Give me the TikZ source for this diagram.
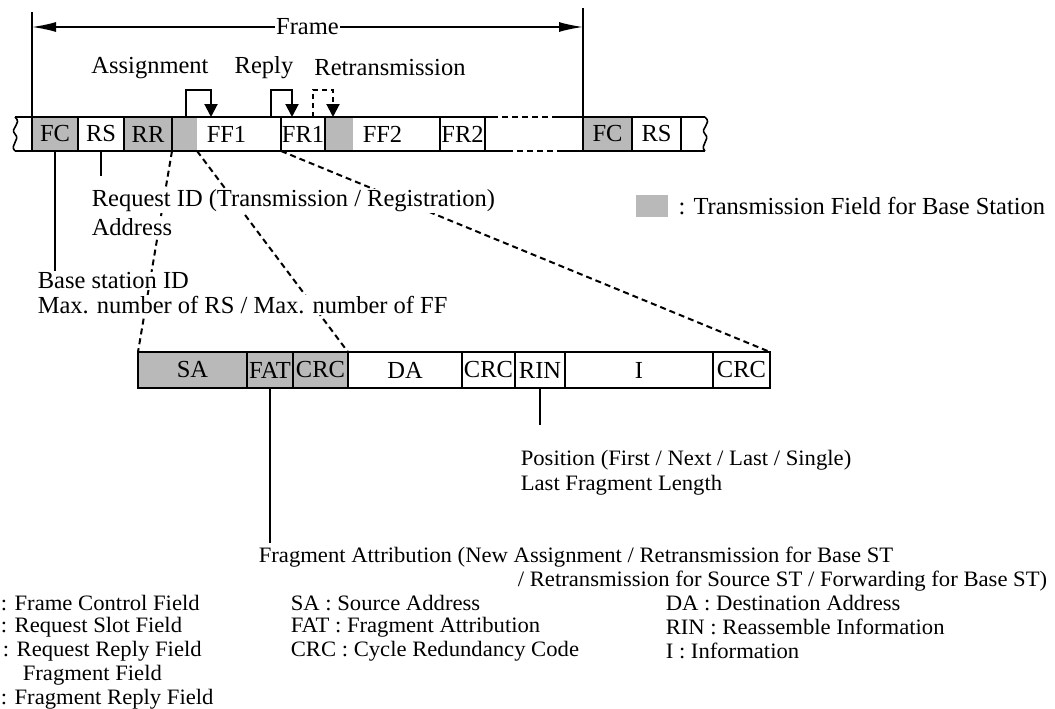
\documentclass[tikz,border=0pt]{standalone}
\usepackage{fontspec}
\setmainfont{Liberation Serif}
\newfontfamily\narrowserif[FakeStretch=1.03]{Liberation Serif}
\usetikzlibrary{arrows.meta,calc,positioning}
\definecolor{BaseGray}{RGB}{185,185,185}

\begin{document}
\begin{tikzpicture}[x=1pt,y=1pt,>=Latex,node distance=0pt,line width=1.6pt,
  font=\fontsize{24.5}{28}\selectfont,
  field/.style={draw,minimum height=34pt,inner sep=0pt,outer sep=0pt},
  basefield/.style={field,fill=BaseGray},
  headfill/.style={path picture={\fill[BaseGray] (path picture bounding box.south west) rectangle ([xshift=#1]path picture bounding box.north west);}},
  cell/.style={draw,minimum height=36pt,inner sep=0pt,outer sep=0pt},
  note/.style={anchor=west,fill=white,inner sep=1pt},
  lownote/.style={anchor=west,inner sep=0pt,font=\narrowserif\fontsize{22}{25}\selectfont},
  lead/.style={line width=2pt,dash pattern=on 6pt off 4pt},
  hop/.style={line width=2pt,-{Triangle[length=13pt,width=13pt]}}]
\useasboundingbox (0,0) rectangle (1055,-709);

% frame row
\node[basefield,minimum width=46pt,anchor=north west] (fc) at (32,-117) {FC};
\node[field,minimum width=46pt,right=of fc] (rs) {RS};
\node[basefield,minimum width=48pt,right=of rs] (rr) {RR};
\node[field,headfill=25pt,minimum width=109pt,right=of rr] (ff1) {FF1};
\node[field,minimum width=44pt,right=of ff1] (fr1) {FR1};
\node[field,headfill=28pt,minimum width=115pt,right=of fr1] (ff2) {FF2};
\node[field,minimum width=45pt,right=of ff2] (fr2) {FR2};
\node[basefield,minimum width=49pt,anchor=north west] (fc2) at (583,-117) {FC};
\node[field,minimum width=49pt,right=of fc2] (rs2) {RS};

% broken ends
\coordinate (lwt) at (15,-117); \coordinate (lwb) at (15,-151);
\coordinate (rwt) at (705,-117); \coordinate (rwb) at (705,-151);
\draw (lwt) -- (fc.north west) (lwb) -- (fc.south west);
\draw (lwt) .. controls (23,-124) and (9,-128) .. (15,-134) .. controls (21,-140) and (9,-145) .. (lwb);
\draw (rs2.north east) -- (rwt) (rs2.south east) -- (rwb);
\draw (rwt) .. controls (713,-124) and (699,-128) .. (705,-134) .. controls (711,-140) and (699,-145) .. (rwb);

% gap between frames
\draw (fr2.north east) -- ([xshift=7]fr2.north east);
\draw[lead] ([xshift=7]fr2.north east) -- ([xshift=-28]fc2.north west);
\draw ([xshift=-28]fc2.north west) -- (fc2.north west);
\draw (fr2.south east) -- ([xshift=22]fr2.south east);
\draw[lead] ([xshift=22]fr2.south east) -- ([xshift=-23]fc2.south west);
\draw ([xshift=-23]fc2.south west) -- (fc2.south west);

% frame length
\draw (fc.north west) -- ++(0,105);
\draw (fc2.north west) -- ++(0,109);
\draw[{Latex[length=24pt,width=10pt]}-{Latex[length=24pt,width=10pt]}] ([yshift=90]fc.north west) -- ([yshift=90]fc2.north west) node[midway,fill=white,inner sep=1pt] (frame) {Frame};

% assignment, reply, retransmission
\node (asg) at (150,-68) {Assignment};
\node (rpl) at (264,-68) {Reply};
\node (rtx) at (390,-68) {Retransmission};
\draw[hop] ([xshift=14]ff1.north west) -- ++(0,27) -| ([xshift=39]ff1.north west);
\draw[hop] ([xshift=-10]ff1.north east) -- ++(0,27) -| ([xshift=11]fr1.north west);
\draw[hop,dash pattern=on 5pt off 4pt] ([xshift=-12]fr1.north east) -- ++(0,27) -| ([xshift=8]ff2.north west);

% fragment field
\node[cell,fill=BaseGray,minimum width=109pt,anchor=north west] (sa) at (138,-352) {SA};
\node[cell,fill=BaseGray,minimum width=46pt,right=of sa] (fat) {FAT};
\node[cell,fill=BaseGray,minimum width=55pt,right=of fat] (crca) {CRC};
\node[cell,minimum width=114pt,right=of crca] (da) {DA};
\node[cell,minimum width=53pt,right=of da] (crcb) {CRC};
\node[cell,minimum width=50pt,right=of crcb] (rin) {RIN};
\node[cell,minimum width=148pt,right=of rin] (info) {I};
\node[cell,minimum width=57pt,right=of info] (crcc) {CRC};

\draw[lead] (rr.south east) -- (sa.north west);
\draw[lead] ([xshift=25]ff1.south west) -- (crca.north east);
\draw[lead] (fr1.south west) -- (crcc.north east);

% notes
\node[note] (reqid) at (90,-201) {Request ID (Transmission / Registration)};
\node[note] (addr) at (90,-227) {Address};
\node[note] (bsid) at (36,-281) {Base station ID};
\node[note] (maxn) at (36,-305) {Max. number of RS / Max. number of FF};
\node[lownote] (pos) at (520,-460) {Position (First / Next / Last / Single)};
\node[lownote] (lastlen) at (520,-485) {Last Fragment Length};
\node[lownote] (fattr) at (258,-557) {Fragment Attribution (New Assignment / Retransmission for Base ST};
\node[lownote,anchor=east] (fattr2) at (1048,-581) {/ Retransmission for Source ST / Forwarding for Base ST)};

\draw (fc.south) -- (fc.south |- bsid.north);
\draw[shorten >=12pt] (rs.south) -- (rs.south |- reqid.north);
\draw (fat.south) -- ([yshift=3]fat.south |- fattr.north);
\draw[shorten >=24pt] (rin.south) -- (rin.south |- pos.north);

% legend
\node[fill=BaseGray,minimum width=32pt,minimum height=22pt,inner sep=0pt] (key) at (652,-206) {};
\node[right=8pt of key,inner sep=1pt] (keytxt) {: Transmission Field for Base Station};
\node[lownote] (lgfc) at (0,-603) {: Frame Control Field};
\node[lownote] (lgrs) at (0,-627) {: Request Slot Field};
\node[lownote] (lgrr) at (2,-651) {: Request Reply Field};
\node[lownote] (lgff) at (22,-675) {Fragment Field};
\node[lownote] (lgfr) at (0,-699) {: Fragment Reply Field};
\node[lownote] (lgsa) at (290,-603) {SA : Source Address};
\node[lownote] (lgfat) at (290,-627) {FAT : Fragment Attribution};
\node[lownote] (lgcrc) at (290,-651) {CRC : Cycle Redundancy Code};
\node[lownote] (lgda) at (665,-603) {DA : Destination Address};
\node[lownote] (lgrin) at (665,-627) {RIN : Reassemble Information};
\node[lownote] (lgi) at (665,-651) {I : Information};
\end{tikzpicture}
\end{document}
